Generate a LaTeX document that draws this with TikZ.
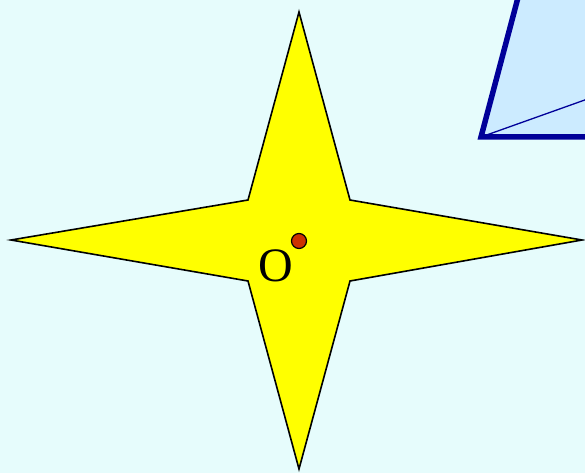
\documentclass[tikz,border=0pt]{standalone}
\usepackage{fontspec}
\setmainfont{Liberation Serif}
\definecolor{bgcyan}{HTML}{E6FCFC}
\definecolor{quadfill}{HTML}{CCEBFF}
\definecolor{quaddraw}{HTML}{000099}
\definecolor{dotred}{HTML}{CC3300}
\definecolor{staryellow}{RGB}{255,255,0}
\begin{document}
\begin{tikzpicture}[x=1pt,y=-1pt]
	\useasboundingbox (0,0) rectangle (585,473);
	\clip (0,0) rectangle (585,473);
	\fill[bgcyan] (0,0) rectangle (585,473);
	% quadrilateral, cut by the frame
	\draw[fill=quadfill, draw=quaddraw, line width=5.5pt, line join=miter] (520,-10) -- (481,137) -- (610,137) -- (610,-10) -- cycle;
	\draw[quaddraw, line width=1.3pt] (481,137) -- (610,91);
	% star
	\draw[fill=staryellow, line width=1.6pt, line join=miter] (299,12) -- (350,200) -- (582,240) -- (350,281) -- (299,469) -- (248,281) -- (11,240) -- (248,200) -- cycle;
	\node[circle, fill=dotred, draw, line width=1.2pt, inner sep=0pt, minimum size=15pt] (O) at (299,241) {};
	\node[inner sep=0pt, font=\fontsize{48}{48}\selectfont] (Olabel) at (275.5,266) {O};
\end{tikzpicture}
\end{document}
